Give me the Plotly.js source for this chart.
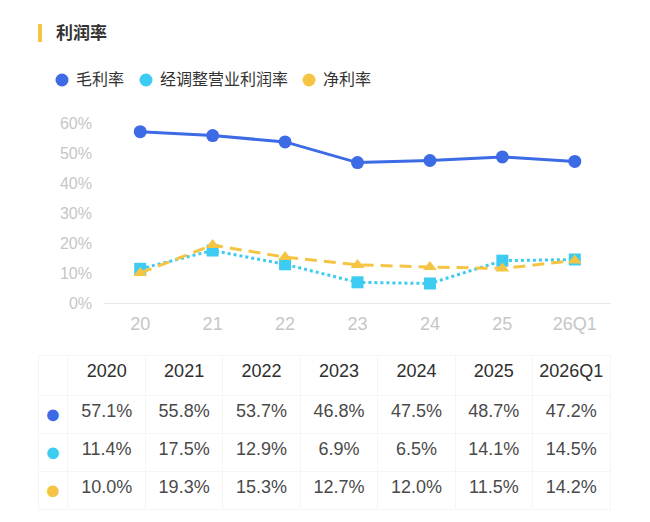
<!DOCTYPE html>
<html>
<head>
<meta charset="utf-8">
<script src="https://cdn.plot.ly/plotly-3.0.1.min.js"></script>
<style>
  body { margin: 0; background: #fff; }
  #chart { width: 650px; height: 522px; }
</style>
</head>
<body>
<div id="chart"></div>
<script>
  // data
  var years = ['2020', '2021', '2022', '2023', '2024', '2025', '2026Q1'];
  var shortYears = ['20', '21', '22', '23', '24', '25', '26Q1'];
  var names = ['毛利率', '经调整营业利润率', '净利率'];
  var grossMargin = [57.1, 55.8, 53.7, 46.8, 47.5, 48.7, 47.2];
  var adjOpMargin = [11.4, 17.5, 12.9, 6.9, 6.5, 14.1, 14.5];
  var netMargin = [10.0, 19.3, 15.3, 12.7, 12.0, 11.5, 14.2];

  var colors = ['#3d6be6', '#3ecbf1', '#f6c443'];
  var font = 'Liberation Sans, Noto Sans CJK SC, sans-serif';
  var W = 650, H = 522;

  function pct(v) { return v.toFixed(1) + '%'; }

  var line1 = {
    x: shortYears, y: grossMargin, type: 'scatter', mode: 'lines+markers',
    line: { color: colors[0], width: 3 },
    marker: { symbol: 'circle', size: 13, color: colors[0] },
    hoverinfo: 'skip'
  };
  var line2 = {
    x: shortYears, y: adjOpMargin, type: 'scatter', mode: 'lines+markers',
    line: { color: colors[1], width: 3, dash: 'dot' },
    marker: { symbol: 'square', size: 12, color: colors[1] },
    hoverinfo: 'skip'
  };
  var line3 = {
    x: shortYears, y: netMargin, type: 'scatter', mode: 'lines+markers',
    line: { color: colors[2], width: 3, dash: '12px,7px' },
    marker: { symbol: 'triangle-up', size: 12, color: colors[2] },
    hoverinfo: 'skip'
  };

  var dotCol = ['●', '●', '●'];
  var cellCols = [dotCol];
  var cellColors = [colors.slice()];
  for (var i = 0; i < years.length; i++) {
    cellCols.push([pct(grossMargin[i]), pct(adjOpMargin[i]), pct(netMargin[i])]);
    cellColors.push(['#4a4a4a', '#4a4a4a', '#4a4a4a']);
  }
  var colWidths = [30];
  years.forEach(function () { colWidths.push(77.5); });
  var cellSizes = [27];
  years.forEach(function () { cellSizes.push(18); });

  var table = {
    type: 'table',
    domain: { x: [38 / W, 610 / W], y: [10 / H, (H - 355) / H] },
    columnwidth: colWidths,
    header: {
      values: [''].concat(years),
      height: 40,
      align: 'center',
      fill: { color: '#fff' },
      line: { color: '#f5f5f5', width: 1 },
      font: { family: font, size: 18, color: '#2e2e2e' }
    },
    cells: {
      values: cellCols,
      height: 38,
      align: 'center',
      fill: { color: '#fff' },
      line: { color: '#f5f5f5', width: 1 },
      font: { family: font, size: cellSizes, color: cellColors }
    }
  };

  // hand-made legend: a dot and a label per series
  var legendDotX = [62, 146, 309];
  var shapes = [
    { type: 'rect', xref: 'paper', yref: 'paper',
      x0: 38 / W, x1: 42 / W, y0: (H - 42) / H, y1: (H - 24) / H,
      fillcolor: '#f6c443', line: { width: 0 } }
  ];
  var annotations = [
    { xref: 'paper', yref: 'paper', x: 54 / W, y: (H - 33) / H,
      xanchor: 'left', yanchor: 'middle', showarrow: false,
      text: '<b>利润率</b>', font: { size: 17, color: '#333' } }
  ];
  names.forEach(function (n, i) {
    var cx = legendDotX[i], cy = 80, r = 6.5;
    shapes.push({ type: 'circle', xref: 'paper', yref: 'paper',
      x0: (cx - r) / W, x1: (cx + r) / W, y0: (H - cy - r) / H, y1: (H - cy + r) / H,
      fillcolor: colors[i], line: { width: 0 } });
    annotations.push({ xref: 'paper', yref: 'paper', x: (cx + 12) / W, y: (H - cy) / H,
      xanchor: 'left', yanchor: 'middle', showarrow: false,
      text: n, font: { size: 16, color: '#333' } });
  });

  var layout = {
    width: W, height: H,
    margin: { l: 0, r: 0, t: 0, b: 0 },
    paper_bgcolor: '#fff', plot_bgcolor: '#fff',
    font: { family: font },
    showlegend: false,
    xaxis: {
      type: 'category',
      domain: [104 / W, 611 / W],
      range: [-0.5, 6.5],
      showgrid: false, zeroline: false,
      showline: true, linecolor: '#e9e9e9', linewidth: 1,
      ticks: '', ticklabelstandoff: 4,
      tickfont: { size: 18, color: '#c6c6c6' }
    },
    yaxis: {
      domain: [(H - 303) / H, (H - 123) / H],
      range: [0, 60],
      dtick: 10, ticksuffix: '%',
      showgrid: false, zeroline: false, showline: false,
      ticks: '', ticklabelstandoff: 11,
      tickfont: { size: 16, color: '#c6c6c6' }
    },
    shapes: shapes,
    annotations: annotations
  };

  Plotly.newPlot('chart', [line1, line2, line3, table], layout,
    { displayModeBar: false, staticPlot: true });
</script>
</body>
</html>
